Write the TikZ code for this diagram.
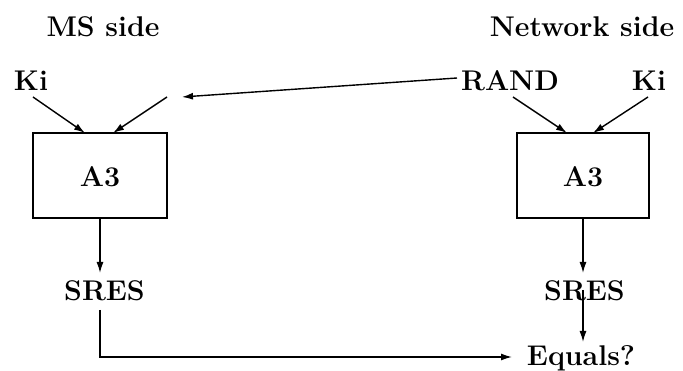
\documentclass[tikz,border=0pt]{standalone}
\usetikzlibrary{arrows.meta}
\begin{document}
\begin{tikzpicture}[x=1pt,y=-1pt,
  lbl/.style={anchor=base,inner sep=0pt,font=\fontsize{28.5}{34}\selectfont\bfseries},
  conn/.style={line width=1.4pt,-{Latex[length=11pt,width=7pt]}},
  boxst/.style={line width=1.4pt}]
\useasboundingbox (0,0) rectangle (683,371);
% titles
\node[lbl] (ms) at (103,37) {MS side};
\node[lbl] (net) at (582,37) {Network side};
% inputs
\node[lbl] (kil) at (31,91) {Ki};
\node[lbl] (rand) at (510,91) {RAND};
\node[lbl] (kir) at (649,91) {Ki};
% boxes
\draw[boxst] (33,133) rectangle (167,218);
\draw[boxst] (517,133) rectangle (649,218);
\node[lbl] (a3l) at (100,187) {A3};
\node[lbl] (a3r) at (583,187) {A3};
% outputs
\node[lbl] (sresl) at (104.5,301) {SRES};
\node[lbl] (sresr) at (584.5,301) {SRES};
\node[lbl] (eq) at (581,365.5) {Equals?};
% connector coordinates
\coordinate (randout) at (457,78);
\coordinate (randin) at (182,97);
\coordinate (kilout) at (33,97);
\coordinate (kilin) at (85,133);
\coordinate (rlout) at (167,97);
\coordinate (rlin) at (113,133);
\coordinate (randrout) at (513,97);
\coordinate (randrin) at (567,133);
\coordinate (kirout) at (648,97);
\coordinate (kirin) at (593,133);
\coordinate (blbot) at (100,218);
\coordinate (sreslin) at (100,273);
\coordinate (brbot) at (583,218);
\coordinate (sresrin) at (583,273);
\coordinate (sresrout) at (583,290);
\coordinate (eqtop) at (583,342);
\coordinate (sreslout) at (100,310);
\coordinate (corner) at (100,357);
\coordinate (eqin) at (512,357);
% connectors
\draw[conn] (randout) -- (randin);
\draw[conn] (kilout) -- (kilin);
\draw[conn] (rlout) -- (rlin);
\draw[conn] (randrout) -- (randrin);
\draw[conn] (kirout) -- (kirin);
\draw[conn] (blbot) -- (sreslin);
\draw[conn] (brbot) -- (sresrin);
\draw[conn] (sresrout) -- (eqtop);
\draw[conn] (sreslout) -- (corner) -- (eqin);
\end{tikzpicture}
\end{document}
